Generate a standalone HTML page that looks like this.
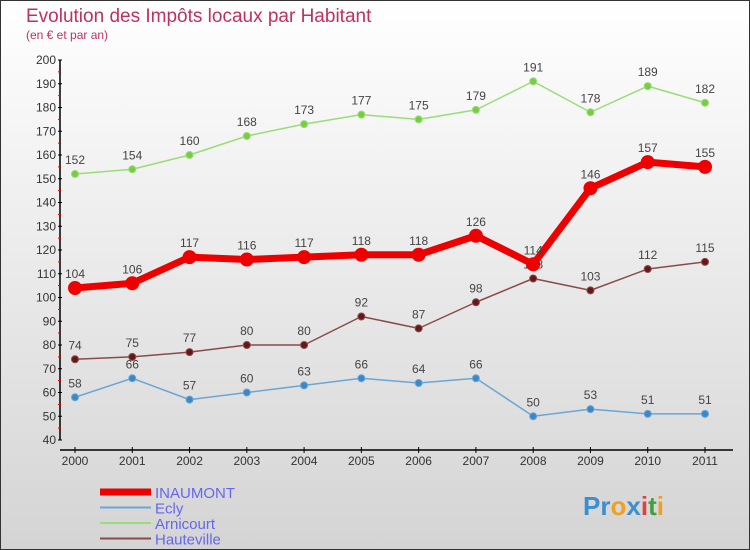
<!DOCTYPE html>
<html><head><meta charset="utf-8"><style>
body{margin:0;}
#wrap{position:relative;width:750px;height:550px;overflow:hidden;font-family:"Liberation Sans",sans-serif;}
svg text{font-family:"Liberation Sans",sans-serif;}
</style></head><body>
<div id="wrap">
<svg id="svg" width="750" height="550" xmlns="http://www.w3.org/2000/svg">
<defs><linearGradient id="bg" x1="0" y1="0" x2="0" y2="1"><stop offset="0" stop-color="#ffffff"/><stop offset="1" stop-color="#d4d4d4"/></linearGradient></defs>
<rect x="0.5" y="0.5" width="749" height="549" fill="url(#bg)" stroke="#333"/>
<text x="26" y="22" font-size="19" fill="#c0305f">Evolution des Impôts locaux par Habitant</text>
<text x="26" y="39" font-size="12" fill="#c0305f">(en € et par an)</text>
<g id="axes"></g>
<g id="series"></g>
<g id="legend"></g>
<text x="583" y="515" font-size="26" font-weight="bold"><tspan fill="#3a8fd0">Pr</tspan><tspan fill="#f0a020">o</tspan><tspan fill="#3a8fd0">x</tspan><tspan fill="#e04040">i</tspan><tspan fill="#40a040">t</tspan><tspan fill="#f0a020">i</tspan></text>
</svg>
</div>
<script>
const years=[2000,2001,2002,2003,2004,2005,2006,2007,2008,2009,2010,2011];
const inaumont=[104,106,117,116,117,118,118,126,114,146,157,155];
const ecly=[58,66,57,60,63,66,64,66,50,53,51,51];
const arnicourt=[152,154,160,168,173,177,175,179,191,178,189,182];
const hauteville=[74,75,77,80,80,92,87,98,108,103,112,115];
const yTicks=[40,50,60,70,80,90,100,110,120,130,140,150,160,170,180,190,200];
const NS="http://www.w3.org/2000/svg";
const X=i=>75+i*(705-75)/(years.length-1);
const Y=v=>440-(v-40)*(380/160);
function mk(t,a,p){const e=document.createElementNS(NS,t);for(const k in a)e.setAttribute(k,a[k]);p.appendChild(e);return e;}
const ax=document.getElementById('axes');
mk('line',{x1:60,y1:Y(200),x2:60,y2:Y(40),stroke:'#000','stroke-width':1.5},ax);
mk('line',{x1:60,y1:450,x2:733,y2:450,stroke:'#000','stroke-width':1.5},ax);
yTicks.forEach((v,i)=>{
 const y=Y(v);
 mk('line',{x1:58,y1:y,x2:62,y2:y,stroke:'#000'},ax);
 if(i<yTicks.length-1)mk('line',{x1:58,y1:Y(v+5),x2:61,y2:Y(v+5),stroke:'#e00'},ax);
 const t=mk('text',{x:56,y:y+4,'font-size':12,'text-anchor':'end',fill:'#333'},ax);t.textContent=v;
 
 
});
years.forEach((yr,i)=>{
 mk('line',{x1:X(i),y1:447,x2:X(i),y2:453,stroke:'#000'},ax);
 const t=mk('text',{x:X(i),y:465,'font-size':12,'text-anchor':'middle',fill:'#333'},ax);t.textContent=yr;
 
 
});
const sg=document.getElementById('series');
function draw(name,vals,color,dot,w,r){
 const g=mk('g',{},sg);
 
 
 mk('polyline',{points:vals.map((v,i)=>X(i)+','+Y(v)).join(' '),fill:'none',stroke:color,'stroke-width':w,'stroke-linejoin':'round'},g);
 vals.forEach((v,i)=>{
  const c=mk('circle',{cx:X(i),cy:Y(v),r:r,fill:dot,stroke:color,'stroke-width':1},g);
  
  
  const t=mk('text',{x:X(i),y:Y(v)-10,'font-size':12,'text-anchor':'middle',fill:'#444'},g);t.textContent=v;
  
  
 });
}
draw('arnicourt',arnicourt,'#99dd77','#77cc44',1.5,3.5);
draw('hauteville',hauteville,'#8b4a4a','#661818',1.5,3.5);
draw('ecly',ecly,'#6aa6d6','#3a88c8',1.5,3.5);
draw('inaumont',inaumont,'#ee0000','#ee0000',7,6.5);
const lg=document.getElementById('legend');
[['INAUMONT','#ee0000',7],['Ecly','#6aa6d6',2],['Arnicourt','#99dd77',2],['Hauteville','#8b4a4a',2]].forEach((d,i)=>{
 const y=492+i*15.5;
 const g=mk('g',{},lg);
 
 
 mk('line',{x1:100,y1:y,x2:151,y2:y,stroke:d[1],'stroke-width':d[2]},g);
 const t=mk('text',{x:155,y:y+6,'font-size':15,fill:'#6666ee'},g);t.textContent=d[0];
});
</script>
</body></html>
